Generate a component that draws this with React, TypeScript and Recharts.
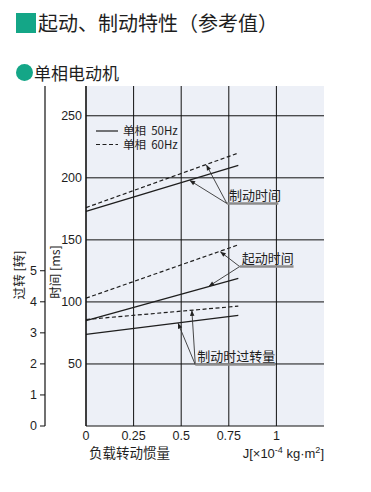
import {
    ComposedChart,
    Line,
    XAxis,
    YAxis,
    CartesianGrid,
    ReferenceLine,
    Legend,
} from 'recharts';

// load inertia J [x10^-4 kg·m2]
const jValues = [0, 0.8];
// times in ms (50Hz solid / 60Hz dashed)
const brake50 = [173, 210];
const brake60 = [176, 220];
const start50 = [85, 119];
const start60 = [103, 146];
// overrun when braking, in revolutions
const over50 = [2.95, 3.56];
const over60 = [3.43, 3.86];

const xTicks = [0, 0.25, 0.5, 0.75, 1];
const msTicks = [50, 100, 150, 200, 250];
const revTicks = [0, 1, 2, 3, 4, 5];

// callouts: label, underline start/end (J, ms), arrow tips (J, ms)
const callouts = [
    { text: '制动时间', from: [0.74, 179.3], to: 1.01, tips: [[0.544, 198], [0.632, 210.5]] },
    { text: '起动时间', from: [0.807, 128.5], to: 1.09, tips: [[0.705, 140.5], [0.644, 112.5]] },
    { text: '制动时过转量', from: [0.574, 49.5], to: 0.995, tips: [[0.483, 83], [0.556, 93.2]] },
];

const data = jValues.map((j, i) => ({
    j,
    brake50: brake50[i],
    brake60: brake60[i],
    start50: start50[i],
    start60: start60[i],
    over50: over50[i],
    over60: over60[i],
}));

const FONT = '"Liberation Sans", Arial, "Noto Sans CJK SC", sans-serif';
const CJK = '"Noto Sans CJK SC", sans-serif';
const INK = '#1e1e1e';
const GREEN = '#14a687';

const Arrow = (p: any) => {
    const { x1, y1, x2, y2 } = p;
    const a = Math.atan2(y2 - y1, x2 - x1);
    const L = 6;
    const w = 0.38;
    return (
        <g>
            <line x1={x1} y1={y1} x2={x2} y2={y2} stroke="#333" strokeWidth={0.9} />
            <polygon
                points={`${x2},${y2} ${x2 - L * Math.cos(a - w)},${y2 - L * Math.sin(a - w)} ${
                    x2 - L * Math.cos(a + w)
                },${y2 - L * Math.sin(a + w)}`}
                fill="#222"
            />
        </g>
    );
};

const underline = (text: string) => (p: any) => {
    const { x1, y1, x2 } = p;
    return (
        <g>
            <line x1={x1} y1={y1} x2={x2} y2={y1} stroke="#8c8c8c" strokeWidth={2.5} />
            <text x={x1 + 2} y={y1 - 4} fontSize={13} fontFamily={CJK} fill={INK}>
                {text}
            </text>
        </g>
    );
};

// legend drawn in svg so both rows keep the tight spacing of the original
const LegendBox = () => (
    <svg width={120} height={36} style={{ display: 'block', overflow: 'visible' }}>
        <line x1={1} y1={11} x2={23} y2={11} stroke={INK} strokeWidth={1.2} />
        <text x={28} y={15} fontSize={11.5} fontFamily={CJK} fill={INK} style={{ whiteSpace: 'pre' }}>
            单相  50Hz
        </text>
        <line x1={1} y1={24.5} x2={23} y2={24.5} stroke={INK} strokeWidth={1.2} strokeDasharray="4 2.5" />
        <text x={28} y={28.5} fontSize={11.5} fontFamily={CJK} fill={INK} style={{ whiteSpace: 'pre' }}>
            单相  60Hz
        </text>
    </svg>
);

const XLabel = (p: any) => {
    const { x, y, width } = p.viewBox;
    return (
        <g fill={INK}>
            <text x={x + 3} y={y + 32} fontSize={13.5} fontFamily={CJK}>
                负载转动惯量
            </text>
            <text x={x + width} y={y + 32} fontSize={13} fontFamily={FONT} textAnchor="end">
                J[×10
                <tspan fontSize={9} dy={-5}>-4</tspan>
                <tspan dy={5}> kg·m</tspan>
                <tspan fontSize={9} dy={-5}>2</tspan>
                <tspan dy={5}>]</tspan>
            </text>
        </g>
    );
};

const tickStyle = { fill: INK, fontSize: 12.5, fontFamily: FONT };

export default function App() {
    return (
        <div style={{ position: 'relative', width: 371, height: 492, margin: -8, background: '#fff' }}>
            <div
                style={{
                    position: 'absolute',
                    left: 16,
                    top: 8,
                    display: 'flex',
                    alignItems: 'center',
                    fontFamily: CJK,
                    fontSize: 20,
                    color: INK,
                    whiteSpace: 'nowrap',
                }}
            >
                <span style={{ display: 'inline-block', width: 20, height: 20, background: GREEN, marginRight: 2 }} />
                起动、制动特性（参考值）
            </div>
            <div
                style={{
                    position: 'absolute',
                    left: 16,
                    top: 60,
                    display: 'flex',
                    alignItems: 'center',
                    fontFamily: CJK,
                    fontSize: 17,
                    color: INK,
                    whiteSpace: 'nowrap',
                }}
            >
                <span
                    style={{
                        display: 'inline-block',
                        width: 17,
                        height: 17,
                        borderRadius: '50%',
                        background: GREEN,
                        marginRight: 1,
                    }}
                />
                单相电动机
            </div>
            <div style={{ position: 'absolute', left: 0, top: 0 }}>
                <ComposedChart
                    width={371}
                    height={492}
                    data={data}
                    margin={{ top: 86, right: 47, bottom: 36, left: 0 }}
                >
                    <CartesianGrid
                        yAxisId="ms"
                        stroke="#111"
                        strokeWidth={1}
                        fill="#edf0f7"
                        fillOpacity={1}
                        horizontalValues={msTicks}
                        verticalValues={xTicks}
                    />
                    <XAxis
                        dataKey="j"
                        type="number"
                        domain={[0, 1.25]}
                        ticks={xTicks}
                        tickFormatter={(v: number) => String(v)}
                        axisLine={{ stroke: '#111', strokeWidth: 1.2 }}
                        tickLine={false}
                        tickSize={0}
                        tickMargin={5}
                        tick={tickStyle}
                        height={30}
                        label={<XLabel />}
                    />
                    <YAxis
                        yAxisId="ms"
                        domain={[0, 274]}
                        ticks={msTicks}
                        allowDataOverflow
                        axisLine={{ stroke: '#111', strokeWidth: 1.2 }}
                        tickLine={false}
                        tickSize={2}
                        tickMargin={2}
                        tick={tickStyle}
                        width={41}
                        label={{
                            value: '时间 [ms]',
                            angle: -90,
                            position: 'insideLeft',
                            offset: 11,
                            dy: 16,
                            style: { fontFamily: CJK, fontSize: 12.5, fill: INK, textAnchor: 'middle' },
                        }}
                    />
                    <YAxis
                        yAxisId="rev"
                        domain={[0, 10.95]}
                        ticks={revTicks}
                        allowDataOverflow
                        axisLine={{ stroke: '#111', strokeWidth: 1.2 }}
                        tickLine={{ stroke: '#111' }}
                        tickSize={5}
                        tickMargin={3}
                        tick={tickStyle}
                        width={45}
                        label={{
                            value: '过转  [转]',
                            angle: -90,
                            position: 'insideLeft',
                            offset: 20,
                            dy: 19,
                            style: { fontFamily: CJK, fontSize: 12.5, fill: INK, textAnchor: 'middle', whiteSpace: 'pre' },
                        }}
                    />
                    <Legend
                        layout="horizontal"
                        verticalAlign="middle"
                        align="center"
                        content={<LegendBox />}
                        wrapperStyle={{ left: 95, top: 120, width: 120 }}
                    />
                    <Line yAxisId="ms" dataKey="brake50" name="单相 50Hz" stroke={INK} strokeWidth={1.3} dot={false} isAnimationActive={false} legendType="line" />
                    <Line yAxisId="ms" dataKey="brake60" name="单相 60Hz" stroke={INK} strokeWidth={1.2} strokeDasharray="4 2.5" dot={false} isAnimationActive={false} />
                    <Line yAxisId="ms" dataKey="start50" stroke={INK} strokeWidth={1.3} dot={false} isAnimationActive={false} />
                    <Line yAxisId="ms" dataKey="start60" stroke={INK} strokeWidth={1.2} strokeDasharray="4 2.5" dot={false} isAnimationActive={false} />
                    <Line yAxisId="rev" dataKey="over50" stroke={INK} strokeWidth={1.3} dot={false} isAnimationActive={false} />
                    <Line yAxisId="rev" dataKey="over60" stroke={INK} strokeWidth={1.2} strokeDasharray="4 2.5" dot={false} isAnimationActive={false} />
                    {callouts.map((c) => [
                        ...c.tips.map((t, k) => (
                            <ReferenceLine
                                key={`${c.text}-a${k}`}
                                yAxisId="ms"
                                segment={[
                                    { x: c.from[0], y: c.from[1] },
                                    { x: t[0], y: t[1] },
                                ]}
                                shape={Arrow}
                                ifOverflow="visible"
                            />
                        )),
                        <ReferenceLine
                            key={`${c.text}-u`}
                            yAxisId="ms"
                            segment={[
                                { x: c.from[0], y: c.from[1] },
                                { x: c.to, y: c.from[1] },
                            ]}
                            shape={underline(c.text)}
                            ifOverflow="visible"
                        />,
                    ])}
                </ComposedChart>
            </div>
        </div>
    );
}
